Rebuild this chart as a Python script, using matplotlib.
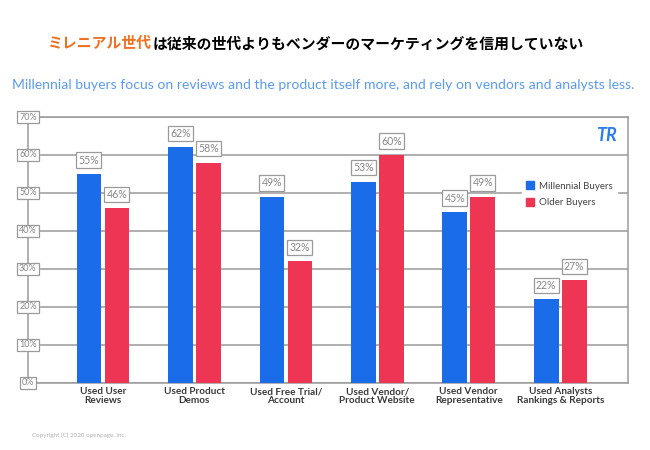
import matplotlib.pyplot as plt
import numpy as np
from matplotlib.patches import Patch

# Chart data
categories = ['Used User\nReviews', 'Used Product\nDemos', 'Used Free Trial/\nAccount',
              'Used Vendor/\nProduct Website', 'Used Vendor\nRepresentative',
              'Used Analysts\nRankings & Reports']
millennial = [55, 62, 49, 53, 45, 22]
older = [46, 58, 32, 60, 49, 27]
yticks = [0, 10, 20, 30, 40, 50, 60, 70]

blue = '#1B6CE8'
red = '#EE3553'
grid_gray = '#9a9a9a'
lato = ['Lato', 'DejaVu Sans']

fig = plt.figure(figsize=(6.5, 4.5), dpi=100)
fig.patch.set_facecolor('white')

# Title (orange part + black part)
jp = ['Noto Sans CJK JP', 'DejaVu Sans']
t1 = fig.text(0.074, 0.904, 'ミレニアル世代', color='#F07020', fontsize=10.7,
              family=jp, fontweight='bold', va='center', ha='left')
fig.canvas.draw()
bb = t1.get_window_extent()
x2 = bb.x1 / fig.bbox.width
fig.text(x2, 0.904, 'は従来の世代よりもベンダーのマーケティングを信用していない', color='black',
         fontsize=10.7, family=jp, fontweight='bold', va='center', ha='left')

# Subtitle
fig.text(0.497, 0.812, 'Millennial buyers focus on reviews and the product itself more, and rely on vendors and analysts less.',
         color='#5B9BF0', fontsize=10.1, family=lato, ha='center', va='center')

ax = fig.add_axes([0.043, 0.149, 0.923, 0.591])
x = np.arange(len(categories))
w = 0.27
off = 0.153
ax.bar(x - off, millennial, w, color=blue, zorder=3)
ax.bar(x + off, older, w, color=red, zorder=3)

ax.set_xlim(-0.82, 5.74)
ax.set_ylim(0, 70)
ax.set_yticks(yticks)
ax.yaxis.grid(True, color=grid_gray, linewidth=1.1, zorder=0)
ax.tick_params(axis='y', length=0, labelleft=False)
ax.tick_params(axis='x', length=0, pad=3)
ax.set_xticks(x)
ax.set_xticklabels(categories, fontsize=7.2, fontweight='bold', color='#3a3a3a',
                   family=lato, linespacing=0.95)
for s in ax.spines.values():
    s.set_color(grid_gray)
    s.set_linewidth(1.1)

box = dict(boxstyle='square,pad=0.2', facecolor='white', edgecolor='#9a9a9a', linewidth=0.9)

# Boxed y tick labels sitting on the axis line
for v in yticks:
    ax.text(0, v, f'{v}%', transform=ax.get_yaxis_transform(), ha='center', va='center',
            fontsize=6.5, color='#888888', bbox=box, zorder=5, clip_on=False, family=lato)

# Value labels
for xi, m, o in zip(x, millennial, older):
    ax.annotate(f'{m}%', (xi - off, m), xytext=(0, 10), textcoords='offset points',
                ha='center', va='center', fontsize=7.6, color='#888888', bbox=box, zorder=5,
                family=lato)
    ax.annotate(f'{o}%', (xi + off, o), xytext=(0, 10), textcoords='offset points',
                ha='center', va='center', fontsize=7.6, color='#888888', bbox=box, zorder=5,
                family=lato)

# Legend
handles = [Patch(color=blue, label='Millennial Buyers'), Patch(color=red, label='Older Buyers')]
leg = ax.legend(handles=handles, loc='center left', bbox_to_anchor=(0.815, 0.71),
                frameon=True, handlelength=0.9, handleheight=0.9,
                handletextpad=0.5, labelspacing=0.7, borderpad=0.4,
                prop={'family': lato, 'size': 7})
leg.get_frame().set_facecolor('white')
leg.get_frame().set_edgecolor('white')
leg.get_frame().set_alpha(1)
for t in leg.get_texts():
    t.set_color('#444444')
leg.set_zorder(6)

# Logo
ax.text(0.965, 0.93, 'TR', transform=ax.transAxes, ha='center', va='center',
        fontsize=13, fontweight='bold', fontstyle='italic', color='#2A7DEB', zorder=6,
        family=lato)

# Copyright
fig.text(0.049, 0.029, 'Copyright (C) 2020 openpage, Inc.', fontsize=4.5, color='#b0b0b0',
         family=lato)

fig.savefig('out.png', dpi=100)
